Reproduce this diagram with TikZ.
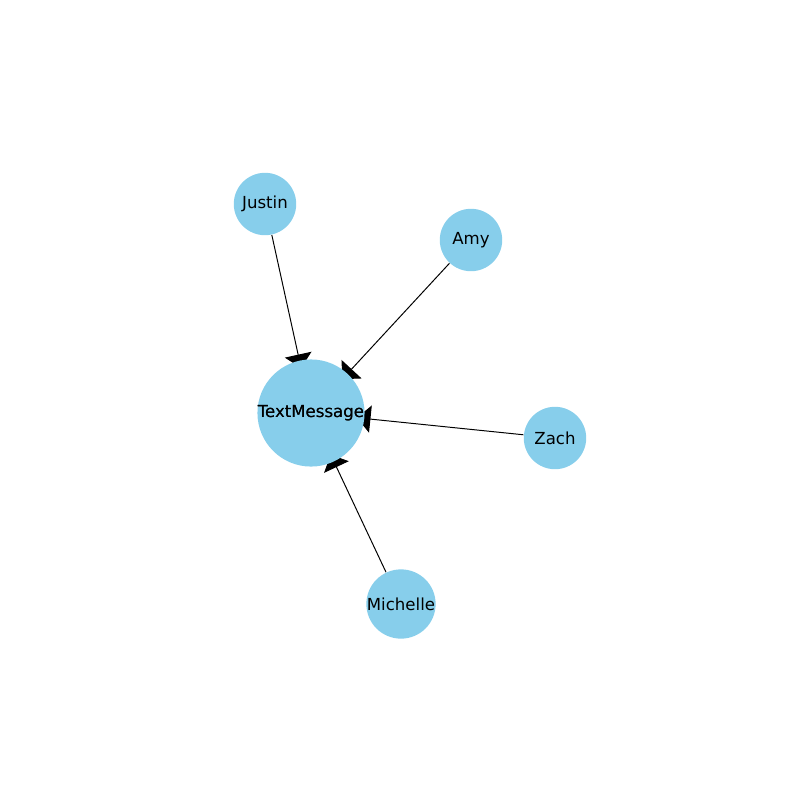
\documentclass[tikz,border=0pt]{standalone}
\usepackage{fontspec}
\setmainfont{DejaVu Sans}
\usetikzlibrary{arrows.meta,backgrounds}
\definecolor{nodeblue}{HTML}{87CEEB}
\tikzset{
  person/.style={circle,fill=nodeblue,minimum size=0.78cm,inner sep=0pt,font=\fontsize{5.9}{7}\selectfont},
  msg/.style={-{Triangle[length=0.17cm,width=0.34cm]},black,line width=0.35pt,shorten >=-0.1cm}
}
\begin{document}
\begin{tikzpicture}[x=0.0125cm,y=-0.0125cm]
  \useasboundingbox (0,0) rectangle (800,800);
  \node[person] (tm) at (311,413) {TextMessage};
  \node[person] (justin) at (265,204) {Justin};
  \node[person] (amy) at (471,240) {Amy};
  \node[person] (zach) at (555,438) {Zach};
  \node[person] (michelle) at (401,604) {Michelle};
  \begin{scope}[on background layer]
    \foreach \src in {justin,amy,zach,michelle}
      \draw[msg] (\src) -- (tm);
  \end{scope}
  % label stays above the arrowheads
  \node[font=\fontsize{5.9}{7}\selectfont] at (tm) {TextMessage};
\end{tikzpicture}
\end{document}
